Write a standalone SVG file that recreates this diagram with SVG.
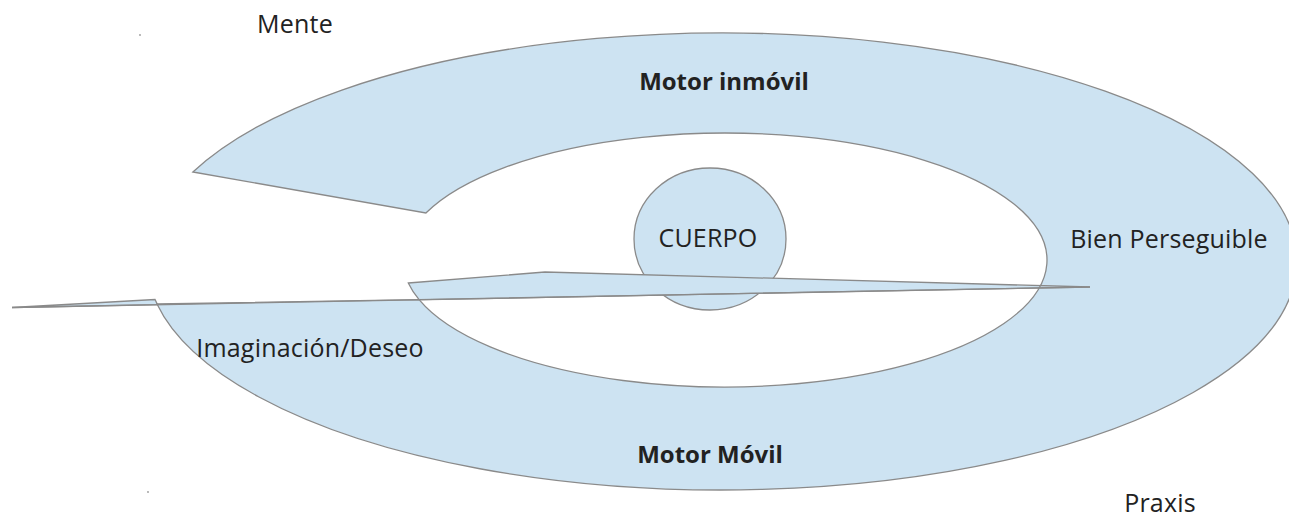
<svg xmlns="http://www.w3.org/2000/svg" xmlns:xlink="http://www.w3.org/1999/xlink" width="1289" height="519" viewBox="0 0 1289 519">
  <style>
    .fill { fill: #cde3f2; stroke: none; }
    .shape { fill: #cde3f2; stroke: #8a8a8a; stroke-width: 1.3; stroke-linejoin: miter; }
    .line { fill: none; stroke: #8a8a8a; stroke-width: 1.3; }
    .lbl { font-family: "Open Sans", "Liberation Sans", sans-serif; font-size: 25px; letter-spacing: 0.2px; fill: #222; text-anchor: middle; }
    .bold { font-weight: bold; font-size: 24px; letter-spacing: 0; }
    .dot { fill: #9a9a9a; }
  </style>
  <defs>
    <path id="bandPath" d="M 192.9,172 A 575 228.5 0 1 1 157,304 L 419.1,299.7 A 322 127 0 1 0 425.9,213 Z"/>
  </defs>
  <rect width="1289" height="519" fill="#ffffff"/>
  <g id="band">
    <use xlink:href="#bandPath" class="fill"/>
  </g>
  <g id="cuerpo">
    <ellipse cx="710" cy="239" rx="76" ry="71" class="shape"/>
    <text x="708" y="247" class="lbl">CUERPO</text>
  </g>
  <g id="connectors">
    <path id="sliver" d="M 408.3,283 L 545,272 L 1090,287 L 419.1,299.7 A 322 127 0 0 1 408.3,283 Z" class="shape"/>
    <path id="wedge" d="M 12,307.5 L 155,299.5 L 157.5,304.6 Z" class="shape"/>
    <path id="longline" d="M 12,307.5 L 1090,287" class="line"/>
    <use xlink:href="#bandPath" class="line"/>
  </g>
  <g id="mente"><text x="295" y="33" class="lbl">Mente</text></g>
  <g id="motor-inmovil"><text x="724" y="90" class="lbl bold">Motor inmóvil</text></g>
  <g id="bien"><text x="1169" y="248" class="lbl">Bien Perseguible</text></g>
  <g id="imaginacion"><text x="310" y="357" class="lbl">Imaginación/Deseo</text></g>
  <g id="motor-movil"><text x="710" y="463" class="lbl bold">Motor Móvil</text></g>
  <g id="praxis"><text x="1160" y="512" class="lbl">Praxis</text></g>
  <circle cx="140" cy="35" r="0.9" class="dot"/>
  <circle cx="148" cy="492" r="0.9" class="dot"/>
</svg>
